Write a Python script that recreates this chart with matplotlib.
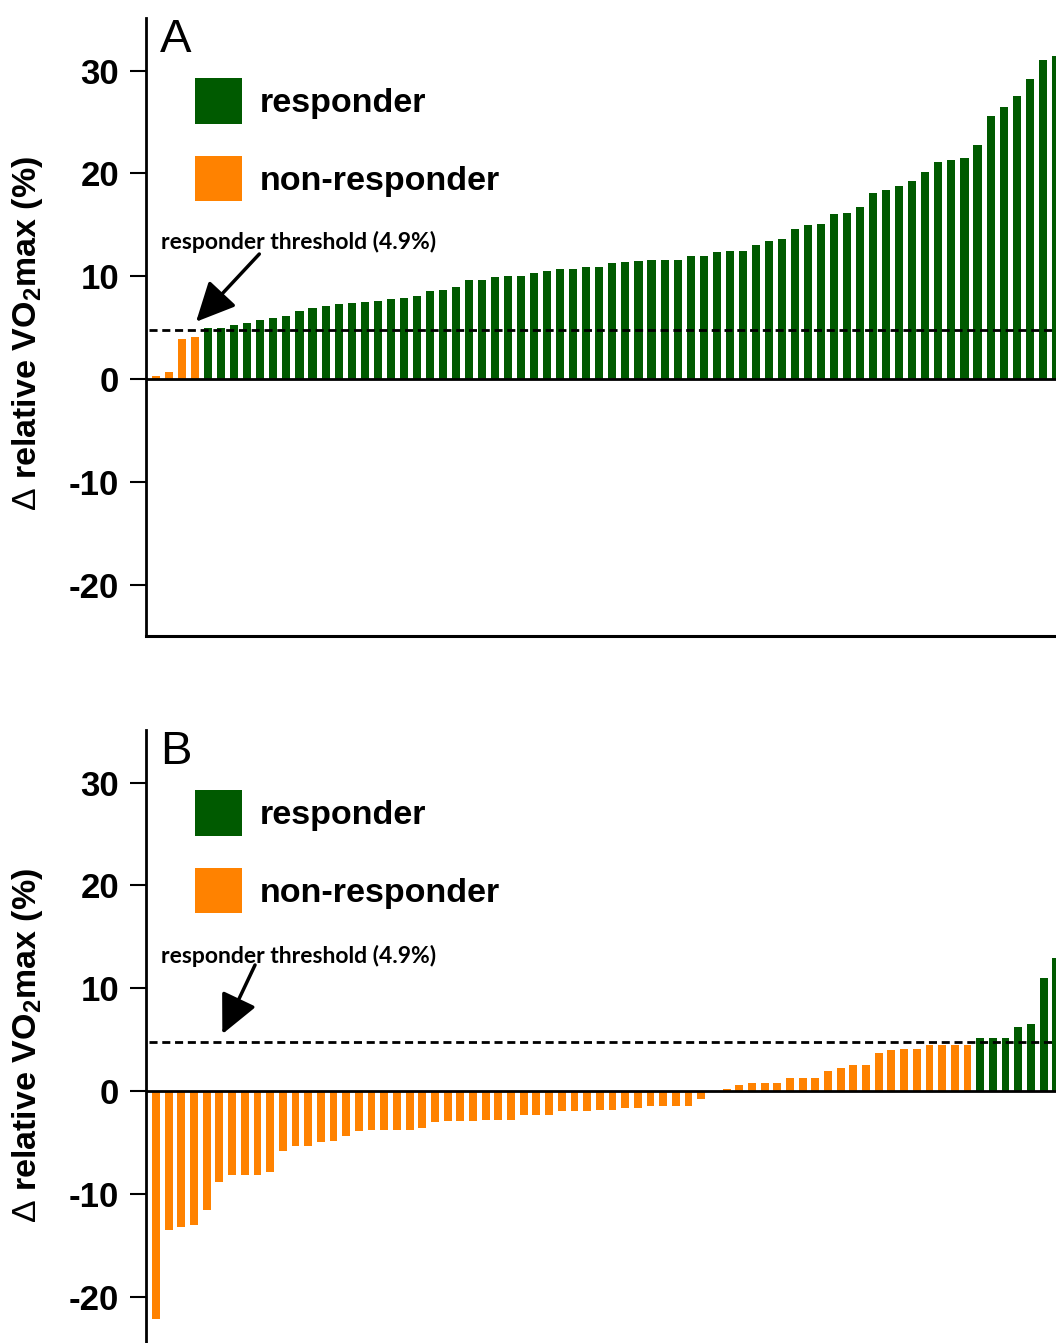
import matplotlib
matplotlib.use("Agg")
import matplotlib.pyplot as plt
from matplotlib.patches import Patch
import numpy as np

plt.rcParams["font.family"] = ["Liberation Sans", "DejaVu Sans"]
plt.rcParams["axes.unicode_minus"] = False
plt.rcParams["mathtext.fontset"] = "custom"
plt.rcParams["mathtext.rm"] = "Liberation Sans"
plt.rcParams["mathtext.bf"] = "Liberation Sans:bold"

GREEN = "#005a00"
ORANGE = "#ff8200"

# responder threshold used to colour the bars, and where the dashed line sits
THRESHOLD = 4.9
THRESHOLD_LINE = 4.75

# panel A: change in relative VO2max (%), sorted ascending
delta_a = [
    0.27, 0.70, 3.94, 4.10,
    4.94, 4.94, 5.30, 5.47, 5.72, 5.89, 6.15, 6.63, 6.89, 7.15,
    7.25, 7.44, 7.54, 7.61, 7.83, 7.86, 8.09, 8.58, 8.70, 8.97,
    9.65, 9.65, 9.97, 10.07, 10.07, 10.33, 10.52, 10.75, 10.75, 10.94,
    10.94, 11.26, 11.36, 11.50, 11.53, 11.59, 11.59, 11.95, 11.95, 12.37,
    12.47, 12.48, 13.00, 13.42, 13.62, 14.56, 14.98, 15.08, 16.02, 16.15,
    16.76, 18.06, 18.42, 18.80, 19.23, 20.10, 21.10, 21.30, 21.50, 22.73,
    25.55, 26.49, 27.50, 29.21, 31.00, 31.42,
]

# panel B
delta_b = [
    -22.18, -13.49, -13.23, -13.06, -11.60, -8.82, -8.14, -8.14, -8.14, -7.88,
    -5.80, -5.35, -5.35, -4.99, -4.86, -4.38, -3.85, -3.76, -3.76, -3.76,
    -3.76, -3.63, -3.01, -2.92, -2.92, -2.92, -2.79, -2.79, -2.79, -2.30,
    -2.30, -2.30, -1.94, -1.94, -1.94, -1.81, -1.81, -1.68, -1.68, -1.42,
    -1.42, -1.42, -1.42, -0.74, 0.00, 0.20, 0.55, 0.80, 0.80, 0.80,
    1.31, 1.31, 1.31, 1.90, 2.25, 2.51, 2.51, 3.68, 3.97, 4.13,
    4.13, 4.52, 4.52, 4.52, 4.52, 5.17, 5.17, 5.17, 6.24, 6.50,
    11.00, 12.96,
]

y_ticks = [-20, -10, 0, 10, 20, 30]
legend_labels = ["responder", "non-responder"]
threshold_label = "responder threshold (4.9%)"
y_label = r"$\Delta$ relative VO$_\mathbf{2}$max (%)"

W, H = 1056, 1343
fig = plt.figure(figsize=(W / 100, H / 100), dpi=100)

panels = [
    # (values, letter, axes rect in px (left, top, bottom), xlim, text y, arrow tail, arrow tip)
    (delta_a, "A", (146, 18, 636), (-0.77, 69.02), 12.6, (7.92, 12.16), (3.07, 5.57)),
    (delta_b, "B", (146, 730, 1348), (-0.79, 70.98), 12.45, (7.81, 12.26), (5.23, 5.54)),
]

for values, letter, (left, top, bottom), xlim, text_y, tail, tip in panels:
    ax = fig.add_axes([left / W, 1 - bottom / H, (W - left) / W, (bottom - top) / H])
    x = np.arange(len(values))
    colors = [GREEN if v >= THRESHOLD else ORANGE for v in values]
    ax.bar(x, values, width=0.62, color=colors, zorder=2)

    ax.axhline(0, color="black", lw=2, zorder=3)
    ax.axhline(THRESHOLD_LINE, xmin=0.003, color="black", lw=2,
               linestyle=(0, (2.9, 1.7)), zorder=4)

    ax.set_xlim(*xlim)
    ax.set_ylim(-25, 35.12)
    ax.set_xticks([])
    ax.set_yticks(y_ticks)
    ax.tick_params(axis="y", direction="out", length=11.5, width=1.5, pad=8,
                   labelsize=25)
    for lab in ax.get_yticklabels():
        lab.set_fontweight("bold")
    for side in ["top", "right"]:
        ax.spines[side].set_visible(False)
    ax.spines["left"].set_linewidth(2)
    ax.spines["bottom"].set_linewidth(2.2)

    ax.set_ylabel(y_label, fontsize=24.5, fontweight="bold")
    ax.yaxis.set_label_coords(-0.111, 0.49)

    ax.text(0.015, 1.0, letter, transform=ax.transAxes, fontsize=34,
            ha="left", va="top")

    ax.legend(
        handles=[Patch(facecolor=GREEN), Patch(facecolor=ORANGE)],
        labels=legend_labels,
        loc="upper left",
        bbox_to_anchor=(0.054, 0.903),
        frameon=False,
        prop={"size": 24.5, "weight": "bold"},
        handlelength=1.38,
        handleheight=1.7,
        handletextpad=0.53,
        labelspacing=0.93,
        borderpad=0,
        borderaxespad=0,
    )

    ax.text(0.4, text_y, threshold_label, fontsize=16.5, fontweight="bold",
            family=["Lato", "DejaVu Sans"], ha="left", va="baseline")
    ax.annotate("", xy=tip, xytext=tail,
                arrowprops=dict(arrowstyle="-|>,head_length=2.4,head_width=1.15",
                                lw=2.5, color="black", shrinkA=0, shrinkB=0))

fig.savefig("out.png", dpi=100)
